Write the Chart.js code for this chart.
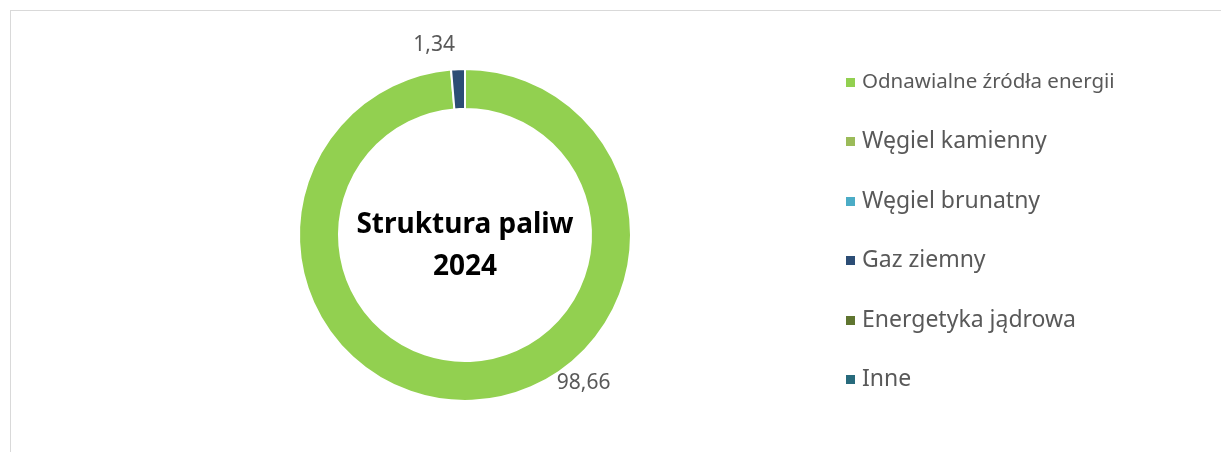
<!DOCTYPE html>
<html lang="pl">
<head>
<meta charset="utf-8">
<title>Struktura paliw 2024</title>
<script src="https://cdn.jsdelivr.net/npm/chart.js@4/dist/chart.umd.min.js"></script>
<style>
  html, body { margin: 0; padding: 0; background: #fff; }
  #wrap { position: relative; width: 1221px; height: 452px; }
  #frame {
    position: absolute; left: 10px; top: 10px; right: 0; bottom: 0;
    border-top: 1px solid #d9d9d9; border-left: 1px solid #d9d9d9;
  }
  #myChart { position: absolute; left: 0; top: 0; }
</style>
</head>
<body>
<div id="wrap">
  <div id="frame"></div>
  <canvas id="myChart" width="1221" height="452"></canvas>
</div>
<script>
// Kategorie paliw
var categories = ['Odnawialne źródła energii', 'Węgiel kamienny', 'Węgiel brunatny', 'Gaz ziemny', 'Energetyka jądrowa', 'Inne'];
// Udział procentowy (2024)
var values = [98.66, 0, 0, 1.34, 0, 0];
// Kolory segmentów
var colors = ['#92d050', '#9bbb59', '#4bacc6', '#2c4d75', '#5f7530', '#276a7c'];
var centerTitle = ['Struktura paliw', '2024'];

document.addEventListener('DOMContentLoaded', function () {

  var ctx = document.getElementById('myChart').getContext('2d');

  // Etykiety wartości na zewnątrz pierścienia
  var valueLabels = {
    id: 'valueLabels',
    afterDatasetsDraw: function (chart, args, opts) {
      var c = chart.ctx;
      var meta = chart.getDatasetMeta(0);
      c.save();
      c.font = '21px "Noto Sans"';
      c.fillStyle = '#595959';
      c.textBaseline = 'middle';
      meta.data.forEach(function (arc, i) {
        var v = values[i];
        if (!v) return;
        var p = arc.getProps(['x', 'y', 'startAngle', 'endAngle', 'outerRadius'], true);
        var a = p.startAngle + opts.frac[i] * (p.endAngle - p.startAngle);
        var r = p.outerRadius + opts.offset;
        c.textAlign = opts.align[i];
        c.fillText(v.toFixed(2).replace('.', ','), p.x + r * Math.cos(a) - (opts.align[i] === 'right' ? 2 : 0), p.y + r * Math.sin(a));
      });
      c.restore();
    }
  };

  // Tytuł w środku pierścienia
  var centerText = {
    id: 'centerText',
    afterDraw: function (chart) {
      var arc = chart.getDatasetMeta(0).data[0];
      if (!arc) return;
      var c = chart.ctx;
      c.save();
      c.font = 'bold 28px "Noto Sans"';
      c.fillStyle = '#000';
      c.textAlign = 'center';
      c.textBaseline = 'alphabetic';
      c.fillText(centerTitle[0], arc.x, arc.y - 2);
      c.fillText(centerTitle[1], arc.x, arc.y + 40);
      c.restore();
    }
  };

  // Legenda po prawej (pierwsza pozycja mniejszą czcionką, jak w oryginale)
  var sideLegend = {
    id: 'sideLegend',
    afterDraw: function (chart, args, opts) {
      var c = chart.ctx;
      var ds = chart.data.datasets[0];
      c.save();
      c.textBaseline = 'middle';
      c.textAlign = 'left';
      chart.data.labels.forEach(function (label, i) {
        var y = opts.top + i * opts.step;
        c.fillStyle = ds.backgroundColor[i];
        c.fillRect(opts.boxX, Math.round(y - opts.box / 2), opts.box, opts.box);
        c.fillStyle = '#595959';
        c.font = opts.sizes[i] + 'px "Noto Sans"';
        c.fillText(label, opts.textX, y);
      });
      c.restore();
    }
  };

  var config = {
    type: 'doughnut',
    data: {
      labels: categories,
      datasets: [{
        data: values,
        backgroundColor: colors,
        borderColor: '#ffffff',
        borderWidth: 2
      }]
    },
    options: {
      responsive: false,
      animation: false,
      events: [],
      radius: 166,
      cutout: '75.9%',
      layout: { padding: { left: 0, right: 291, top: 18, bottom: 0 } },
      plugins: {
        tooltip: { enabled: false },
        legend: { display: false },
        valueLabels: {
          offset: 24,
          frac: [0.398, 0.5, 0.5, 0.5, 0.5, 0.5],
          align: ['center', 'center', 'center', 'right', 'center', 'center']
        },
        sideLegend: {
          boxX: 846,
          textX: 862,
          box: 9,
          top: 82.5,
          step: 59.4,
          sizes: [20.5, 23, 23, 23, 23, 23]
        }
      }
    },
    plugins: [valueLabels, centerText, sideLegend]
  };

  var myChart = new Chart(ctx, config);
});
</script>
</body>
</html>
